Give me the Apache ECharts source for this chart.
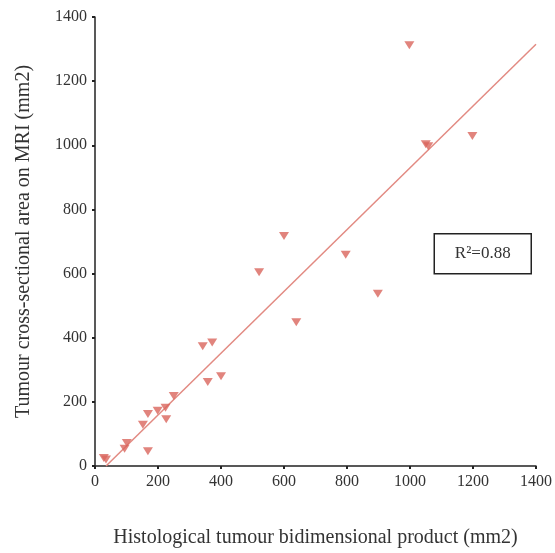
<!DOCTYPE html>
<html>
<head>
<meta charset="utf-8">
<script src="https://cdn.jsdelivr.net/npm/echarts@6/dist/echarts.min.js"></script>
<style>
  html, body { margin: 0; padding: 0; background: #fff; }
  #chart { width: 555px; height: 553px; }
</style>
</head>
<body>
<div id="chart"></div>
<script>
// histological product (mm2) vs MRI area (mm2)
const histoProduct = [28, 35, 94, 101, 168, 152, 168, 199, 224, 226, 250, 342, 372, 358, 400, 521, 600, 639, 796, 898, 998, 1050, 1058, 1198]
const mriArea = [25, 20, 54, 72, 46, 129, 162, 172, 182, 146, 218, 373, 385, 262, 280, 604, 717, 448, 659, 537, 1312, 1003, 997, 1029]
// regression line end points
const fitX = [35, 1400]
const fitY = [0, 1315]
const axisTicks = [0, 200, 400, 600, 800, 1000, 1200, 1400]
const r2Label = 'R²=0.88'

const points = histoProduct.map((x, i) => [x, mriArea[i]])
const fitLine = fitX.map((x, i) => [x, fitY[i]])

const serif = 'Liberation Serif'
const axisCommon = {
  type: 'value',
  min: axisTicks[0],
  max: axisTicks[axisTicks.length - 1],
  interval: 200,
  splitLine: { show: false },
  axisLine: { show: true, lineStyle: { color: '#222', width: 1.5 } },
  axisTick: { show: true, length: 3, lineStyle: { color: '#222', width: 2 } },
  axisLabel: {
    color: '#333',
    fontFamily: serif,
    fontSize: 16,
    margin: 8,
    formatter: v => String(v)
  },
  nameLocation: 'middle',
  nameTextStyle: { color: '#333', fontFamily: serif, fontSize: 20 }
}

const chart = echarts.init(document.getElementById('chart'))
chart.setOption({
  animation: false,
  backgroundColor: '#fff',
  grid: { left: 95, right: 17, top: 17, bottom: 81 },
  xAxis: Object.assign({}, axisCommon, {
    name: 'Histological tumour bidimensional product (mm2)',
    nameGap: 62
  }),
  yAxis: Object.assign({}, axisCommon, {
    name: 'Tumour cross-sectional area on MRI (mm2)',
    nameGap: 61
  }),
  graphic: [{
    type: 'group',
    right: 23,
    top: 233,
    children: [{
      type: 'rect',
      shape: { x: 0, y: 0, width: 97, height: 40 },
      style: { fill: '#fff', stroke: '#222', lineWidth: 1.5 }
    }, {
      type: 'text',
      x: 48.5,
      y: 20,
      style: {
        text: r2Label,
        fill: '#333',
        font: '17px "Liberation Serif"',
        align: 'center',
        verticalAlign: 'middle'
      }
    }]
  }],
  series: [{
    type: 'line',
    data: fitLine,
    symbol: 'none',
    lineStyle: { color: '#e28a82', width: 1.5 },
    z: 2
  }, {
    type: 'scatter',
    data: points,
    symbol: 'triangle',
    symbolRotate: 180,
    symbolSize: [10, 8],
    itemStyle: { color: '#d9655c' },
    z: 3
  }]
})
</script>
</body>
</html>
